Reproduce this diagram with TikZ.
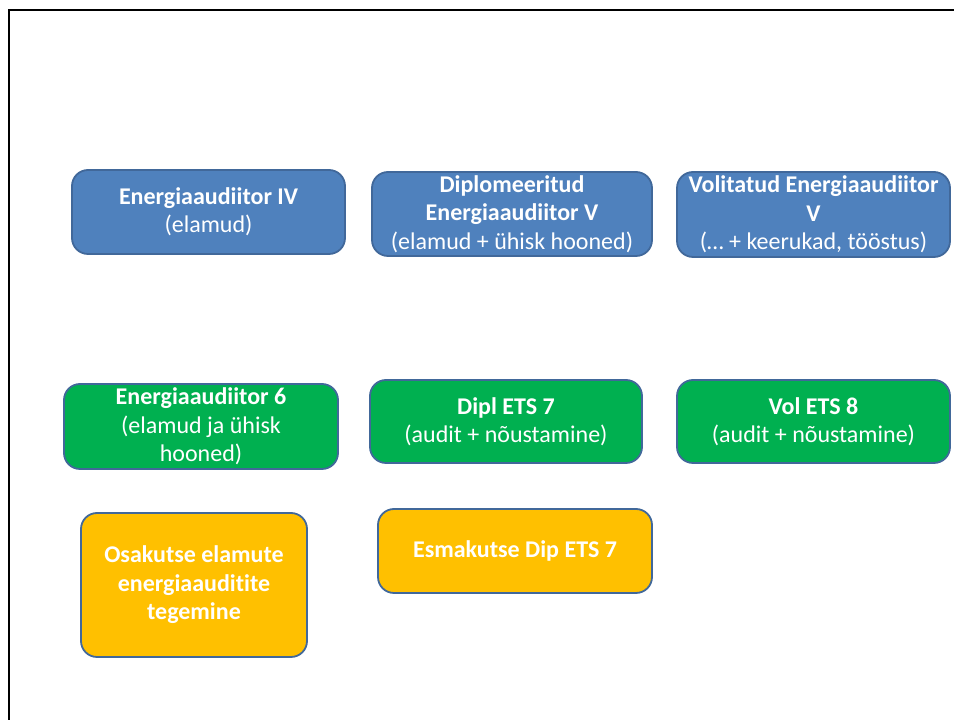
\documentclass[tikz,border=0pt]{standalone}
\usepackage{fontspec}
\setmainfont{Carlito}[Ligatures=NoCommon]
\usepackage{tikz}
\definecolor{boxblue}{HTML}{4F81BD}
\definecolor{boxgreen}{HTML}{00B050}
\definecolor{boxorange}{HTML}{FFC000}
\definecolor{boxedge}{HTML}{41689A}
\newcommand*\boxwd{273pt}
\newcommand*\boxht{84pt}
\tikzset{
    level/.style    = {draw=boxedge, line width=1.8pt, rounded corners=16pt,
                      minimum width=\boxwd, minimum height=\boxht,
                      inner sep=0pt, align=center, text=white,
                      font=\fontsize{24}{28.5}\selectfont},
    bluelevel/.style   = {level, fill=boxblue},
    greenlevel/.style  = {level, fill=boxgreen},
    orangelevel/.style = {level, fill=boxorange, font=\fontsize{24}{28.5}\selectfont\bfseries},
}
\begin{document}
\begin{tikzpicture}[x=1pt,y=1pt]
    \useasboundingbox (0,0) rectangle (954,720);
    % frame of the slide
    \draw[line width=2pt] (9,0) -- (9,710) -- (954,710);

    % row 1: old levels
    \node[bluelevel] (b1) at (208.5,508) {\textbf{Energiaaudiitor IV}\\(elamud)};
    \node[bluelevel, minimum width=280pt] (b2) at (512,506) {\textbf{Diplomeeritud}\\\textbf{Energiaaudiitor V}\\(elamud + ühisk hooned)};
    \node[bluelevel, minimum height=85pt] (b3) at (813.5,505.5) {\textbf{Volitatud Energiaaudiitor}\\\textbf{V}\\(… + keerukad, tööstus)};

    % row 2: new levels
    \node[greenlevel, minimum width=274pt, minimum height=85pt] (g1) at (201,293.5) {\textbf{Energiaaudiitor 6}\\(elamud ja ühisk\\hooned)};
    \node[greenlevel, minimum width=272pt, minimum height=83pt] (g2) at (506,298.5) {\textbf{Dipl ETS 7}\\(audit + nõustamine)};
    \node[greenlevel, minimum height=83pt] (g3) at (813.5,298.5) {\textbf{Vol ETS 8}\\(audit + nõustamine)};

    % row 3: partial and first level
    \node[orangelevel, minimum width=226pt, minimum height=144pt] (o1) at (194,135) {Osakutse elamute\\energiaauditite\\tegemine};
    \node[orangelevel, minimum width=274pt] (o2) at (515,169) {Esmakutse Dip ETS 7};
\end{tikzpicture}
\end{document}
